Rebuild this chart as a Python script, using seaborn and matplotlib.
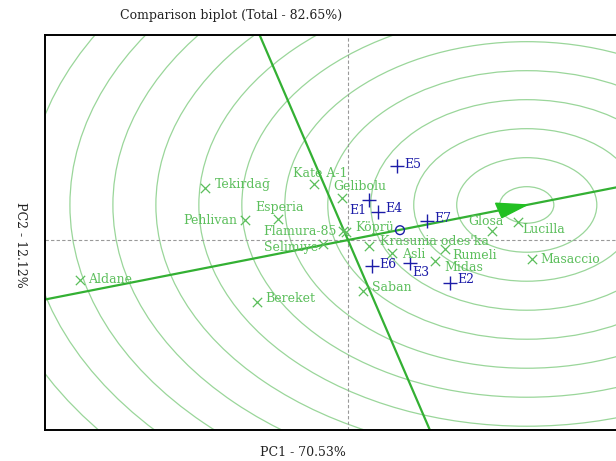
import numpy as np
import pandas as pd
import matplotlib
matplotlib.use("Agg")
import matplotlib.pyplot as plt
import seaborn as sns
from matplotlib.patches import Circle, Polygon

# genotype scores (PC1, PC2)
genotypes = ["Aldane", "Tekirdağ", "Pehlivan", "Esperia", "Flamura-85", "Selimiye",
             "Bereket", "Kate A-1", "Gelibolu", "Köprü", "Krasunia odes'ka", "Asli",
             "Rumeli", "Midas", "Saban", "Glosa", "Lucilla", "Masaccio"]
gen_pc1 = [-6.23, -3.33, -2.40, -1.63, -0.12, -0.58, -2.12, -0.79, -0.14, -0.05,
           0.49, 1.02, 2.26, 2.02, 0.35, 3.35, 3.95, 4.28]
gen_pc2 = [-1.38, 1.79, 0.69, 0.72, 0.31, -0.14, -2.14, 1.93, 1.45, 0.28,
           -0.21, -0.45, -0.31, -0.72, -1.76, 0.31, 0.62, -0.66]

# environment scores
environments = ["E1", "E2", "E3", "E4", "E5", "E6", "E7"]
env_pc1 = [0.49, 2.37, 1.44, 0.70, 1.14, 0.56, 1.84]
env_pc2 = [1.38, -1.48, -0.79, 0.97, 2.55, -0.90, 0.66]

# ideal genotype and average environment
ideal = (4.16, 1.21)
avg_env = (1.21, 0.34)
ring_radii = [0.63 + k for k in range(14)]

# label offsets in pixels (dx, dy, ha)
gen_offsets = {
    "Aldane": (8, 1, "left"), "Tekirdağ": (10, 4, "left"), "Pehlivan": (-8, 0, "right"),
    "Esperia": (2, 12, "center"), "Flamura-85": (-6, 0, "right"), "Selimiye": (-5, -3, "right"),
    "Bereket": (8, 4, "left"), "Kate A-1": (6, 11, "center"), "Gelibolu": (-9, 11, "left"),
    "Köprü": (9, 4, "left"), "Krasunia odes'ka": (11, 5, "left"), "Asli": (10, -1, "left"),
    "Rumeli": (7, -6, "left"), "Midas": (10, -7, "left"), "Saban": (9, 4, "left"),
    "Glosa": (-6, 10, "center"), "Lucilla": (5, -7, "left"), "Masaccio": (8, 0, "left"),
}
env_offsets = {
    "E1": (-3, -10, "right"), "E2": (7, 3, "left"), "E3": (2, -10, "left"),
    "E4": (7, 3, "left"), "E5": (7, 2, "left"), "E6": (7, 2, "left"), "E7": (7, 2, "left"),
}

GREEN = "#5cbf5c"
LINE_GREEN = "#33b033"
RING = "#9ad69a"
BLUE = "#1c1ca8"

sns.set_theme(style="white")
plt.rcParams["font.family"] = ["DejaVu Serif"]

gen_df = pd.DataFrame({"name": genotypes, "pc1": gen_pc1, "pc2": gen_pc2})
env_df = pd.DataFrame({"name": environments, "pc1": env_pc1, "pc2": env_pc2})

fig = plt.figure(figsize=(6.16, 4.61), dpi=100)
ax = fig.add_axes([45 / 616, 31 / 461, 615 / 616, 395 / 461])
ax.set_xlim(-7.05, 7.26)
ax.set_ylim(-6.55, 7.07)

# concentric rings around the ideal genotype
for r in ring_radii:
    ax.add_patch(Circle(ideal, r, fill=False, ec=RING, lw=0.9, zorder=1))

# origin lines
ax.axhline(0, color="#999999", ls=(0, (3, 2)), lw=0.8, zorder=1)
ax.axvline(0, color="#999999", ls=(0, (3, 2)), lw=0.8, zorder=1)

# average environment axis and its perpendicular
u = np.array(ideal) / np.hypot(*ideal)
p = np.array([-u[1], u[0]])
t = np.array([-20, 20])
ax.plot(t * u[0], t * u[1], color=LINE_GREEN, lw=1.6, zorder=2)
ax.plot(t * p[0], t * p[1], color=LINE_GREEN, lw=1.6, zorder=2)

# arrow head at the ideal genotype
tip = np.array(ideal)
base = tip - 0.68 * u
ax.add_patch(Polygon([tip, base + 0.26 * p, base - 0.26 * p], closed=True,
                     fc="#22c022", ec="#22c022", zorder=3))

sns.scatterplot(data=gen_df, x="pc1", y="pc2", marker="x", s=45, color=GREEN,
                linewidth=0.9, ax=ax, zorder=4, legend=False)
sns.scatterplot(data=env_df, x="pc1", y="pc2", marker="+", s=90, color=BLUE,
                linewidth=1.0, ax=ax, zorder=4, legend=False)
ax.scatter([avg_env[0]], [avg_env[1]], marker="o", s=40, facecolors="none",
           edgecolors=BLUE, linewidths=1.0, zorder=4)

for name, x, y in zip(genotypes, gen_pc1, gen_pc2):
    dx, dy, ha = gen_offsets[name]
    ax.annotate(name, (x, y), xytext=(dx, dy), textcoords="offset pixels",
                ha=ha, va="center", fontsize=9, color=GREEN, zorder=5)
for name, x, y in zip(environments, env_pc1, env_pc2):
    dx, dy, ha = env_offsets[name]
    ax.annotate(name, (x, y), xytext=(dx, dy), textcoords="offset pixels",
                ha=ha, va="center", fontsize=9, color=BLUE, zorder=5)

ax.set_xticks([])
ax.set_yticks([])
ax.set_xlabel("")
ax.set_ylabel("")
for side in ["left", "bottom", "top", "right"]:
    ax.spines[side].set_color("black")
    ax.spines[side].set_linewidth(1.4)

fig.text(231 / 616, 1 - 15 / 461, "Comparison biplot (Total - 82.65%)",
         ha="center", va="center", fontsize=9, color="#222222")
fig.text(303 / 616, 1 - 452 / 461, "PC1 - 70.53%", ha="center", va="center",
         fontsize=9, color="#222222")
fig.text(20 / 616, 1 - 245 / 461, "PC2 - 12.12%", ha="center", va="center",
         rotation=270, fontsize=9, color="#222222")

fig.savefig("out.png", dpi=100)
